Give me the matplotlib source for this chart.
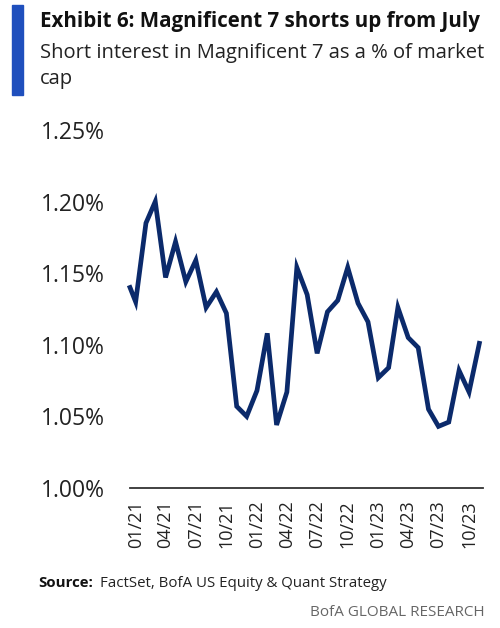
import pandas as pd
import matplotlib
matplotlib.use('Agg')
import matplotlib.pyplot as plt
import matplotlib.dates as mdates
from matplotlib.patches import Rectangle

plt.rcParams['font.family'] = ['Open Sans', 'DejaVu Sans']

# short interest as % of market cap
dates = ['2020-12-15'] + list(pd.date_range('2021-01-01', '2023-11-01', freq='MS').strftime('%Y-%m-%d'))
values = [1.140,
          1.130, 1.185, 1.200, 1.147, 1.172, 1.144, 1.159, 1.126, 1.137, 1.122, 1.057, 1.050,
          1.068, 1.108, 1.044, 1.067, 1.154, 1.135, 1.094, 1.123, 1.131, 1.154, 1.129, 1.116,
          1.077, 1.084, 1.126, 1.105, 1.098, 1.055, 1.043, 1.046, 1.082, 1.067, 1.101]
yticks = [1.00, 1.05, 1.10, 1.15, 1.20, 1.25]

dates = pd.to_datetime(dates)

fig = plt.figure(figsize=(5, 6.28), dpi=100)
ax = fig.add_axes([0.26, 0.223, 0.706, 0.570])

ax.plot(dates, values, color='#0b2a6b', linewidth=3.4, solid_joinstyle='miter', clip_on=False)

ax.set_ylim(1.00, 1.25)
ax.set_yticks(yticks)
ax.set_yticklabels(['%.2f%%' % v for v in yticks])
ax.set_xlim(pd.Timestamp('2020-12-15'), pd.Timestamp('2023-11-12'))
ax.xaxis.set_major_locator(mdates.MonthLocator(bymonth=[1, 4, 7, 10]))
ax.xaxis.set_major_formatter(mdates.DateFormatter('%m/%y'))

for s in ['top', 'right', 'left']:
    ax.spines[s].set_visible(False)
ax.spines['bottom'].set_color('#333333')
ax.spines['bottom'].set_linewidth(1.3)
ax.tick_params(axis='both', length=0)
ax.tick_params(axis='y', labelsize=16.5, pad=18, colors='#222222')
ax.tick_params(axis='x', labelsize=13, rotation=90, pad=9, colors='#222222')

# header
fig.add_artist(Rectangle((0.024, 0.849), 0.022, 0.143, color='#1f4fbd', transform=fig.transFigure))
fig.text(0.08, 0.966, 'Exhibit 6: Magnificent 7 shorts up from July', fontsize=14.8,
         fontweight='bold', va='center', color='#111111')
fig.text(0.08, 0.895, 'Short interest in Magnificent 7 as a % of market\ncap', fontsize=14.5,
         va='center', color='#222222', linespacing=1.35)

# footer
fig.text(0.076, 0.071, 'Source:', fontsize=10.8, fontweight='bold', va='center', color='#111111')
fig.text(0.2, 0.071, 'FactSet, BofA US Equity & Quant Strategy', fontsize=10.8,
         va='center', color='#222222')
fig.text(0.97, 0.025, 'BofA GLOBAL RESEARCH', fontsize=11, ha='right', va='center',
         color='#666666')

fig.savefig('out.png', dpi=100)
